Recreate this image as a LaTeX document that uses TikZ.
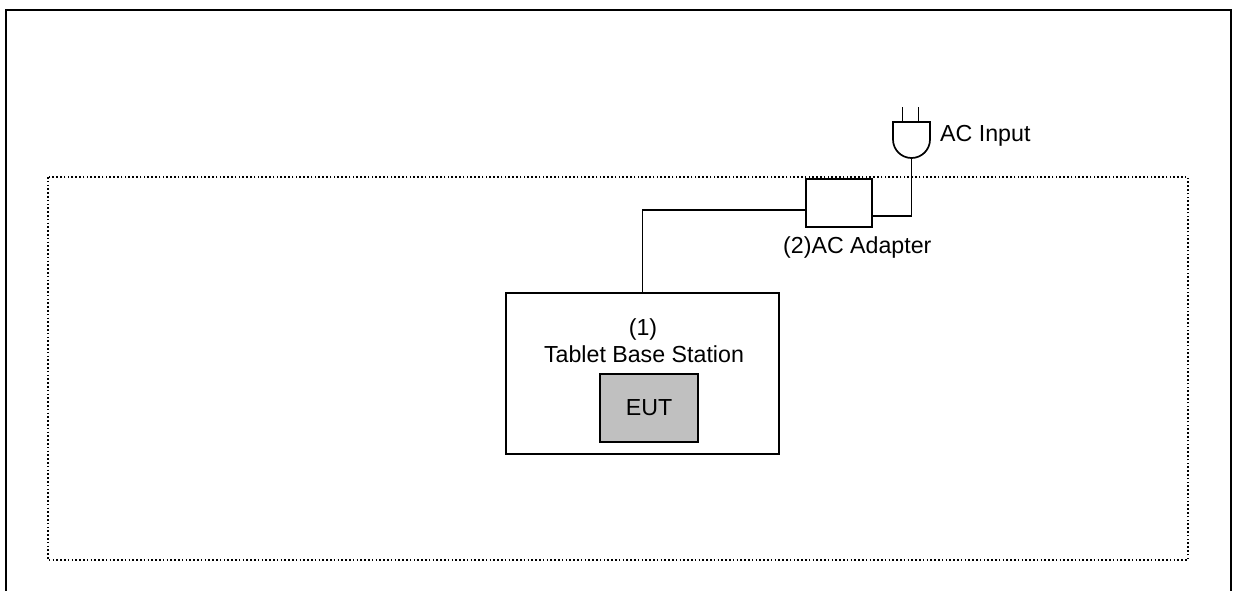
\documentclass[tikz,border=0pt]{standalone}
\usepackage{fontspec}
\setmainfont{Liberation Sans}
\usetikzlibrary{calc}
\usepackage{xcolor}
\definecolor{EUTGray}{RGB}{192,192,192}
\newcommand{\PlugX}{911.5}
\newcommand{\PlugTop}{122}
\newcommand{\PlugHalf}{18.5}
\newcommand{\ProngLen}{15}
\newcommand{\LabelSize}{23.2}

\begin{document}
\begin{tikzpicture}[
  x=1pt,y=-1pt,
  every node/.style={font=\fontsize{\LabelSize}{27}\selectfont},
  frame/.style={black,line width=2.6pt},
  zone/.style={black,line width=1.4pt,dash pattern=on 1.6pt off 2.2pt},
  box/.style={draw=black,line width=1.7pt,inner sep=0pt},
  wire/.style={black,line width=1.7pt},
  caption/.style={inner sep=0pt}
]

% Page frame and test area
\useasboundingbox (0,0) rectangle (1235,591);
\draw[frame] (6,591) -- (6,10) -- (1231,10) -- (1231,591);
\draw[zone] (48,177) rectangle (1188,560);

% Base station with EUT
\node[box,minimum width=273pt,minimum height=161pt] (station) at (642.5,373.5) {};
\node[caption,anchor=base] (stationnum) at (643,335) {(1)};
\node[caption,anchor=base] (stationname) at (644,362) {Tablet Base Station};
\node[box,fill=EUTGray,line width=2.4pt,minimum width=98pt,minimum height=68pt]
  (eut) at (649,408) {EUT};

% AC adapter
\node[box,minimum width=66pt,minimum height=48pt] (adapter) at (839,203) {};
\node[caption,anchor=base west] (adapterlabel) at (783,253) {(2)AC Adapter};

% Mains plug
\coordinate (plug) at (\PlugX,158);
\draw[wire] (\PlugX-\PlugHalf,\PlugTop) -- (\PlugX-\PlugHalf,158-\PlugHalf)
  arc[start angle=180,end angle=0,radius=\PlugHalf] -- (\PlugX+\PlugHalf,\PlugTop) -- cycle;
\foreach \dx in {-9,7}{%
  \draw[wire] (\PlugX+\dx,\PlugTop) -- (\PlugX+\dx,\PlugTop-\ProngLen);
}
\node[caption,anchor=base west] (aclabel) at (940,142) {AC Input};

% Cables
\draw[wire] (station.north) |- ([yshift=-7pt]adapter.west);
\draw[wire] ([yshift=-13pt]adapter.east) -| (plug);

\end{tikzpicture}
\end{document}
